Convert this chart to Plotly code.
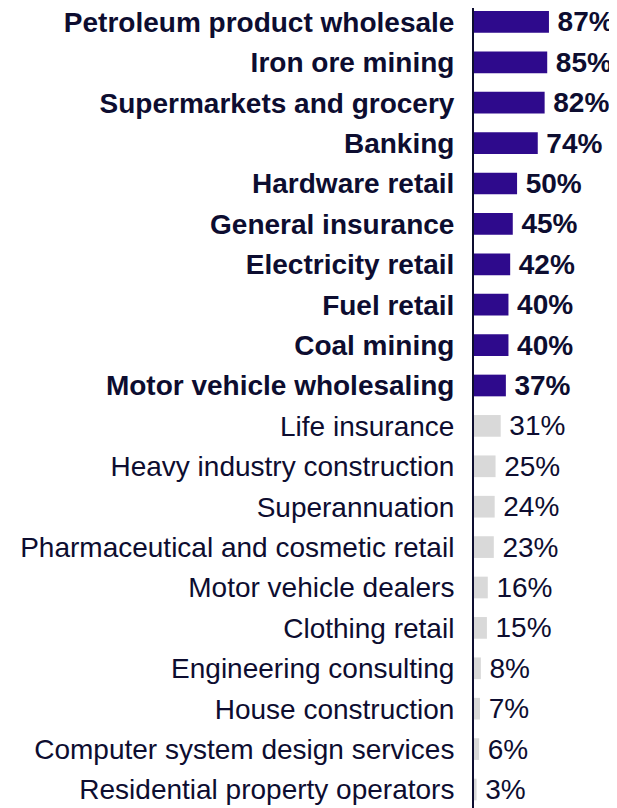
import plotly.graph_objects as go

categories = [
    "Petroleum product wholesale", "Iron ore mining", "Supermarkets and grocery",
    "Banking", "Hardware retail", "General insurance", "Electricity retail",
    "Fuel retail", "Coal mining", "Motor vehicle wholesaling", "Life insurance",
    "Heavy industry construction", "Superannuation",
    "Pharmaceutical and cosmetic retail", "Motor vehicle dealers",
    "Clothing retail", "Engineering consulting", "House construction",
    "Computer system design services", "Residential property operators",
]
values = [87, 85, 82, 74, 50, 45, 42, 40, 40, 37, 31, 25, 24, 23, 16, 15, 8, 7, 6, 3]
highlighted = [True] * 10 + [False] * 10

DARK = "#2E0A8C"
GREY = "#D9D9D9"
TEXT = "#0D0D30"

colors = [DARK if h else GREY for h in highlighted]
bar_text = [(f"\u2009<b>{v}%</b>" if h else f"\u2009{v}%") for v, h in zip(values, highlighted)]
tick_text = [(f"<b>{c}</b>" if h else c) for c, h in zip(categories, highlighted)]

fig = go.Figure(go.Bar(
    x=values, y=categories, orientation="h",
    marker=dict(color=colors, line=dict(width=0)),
    width=0.537,
    text=bar_text, textposition="outside", constraintext="none",
    cliponaxis=False,
    textfont=dict(family="Liberation Sans, Arial, sans-serif", size=28, color=TEXT),
    hoverinfo="skip",
))

fig.update_layout(
    width=609, height=800,
    margin=dict(l=466, r=0, t=0, b=0),
    paper_bgcolor="white", plot_bgcolor="white",
    showlegend=False,
    font=dict(family="Liberation Sans, Arial, sans-serif", size=28, color=TEXT),
)
fig.update_xaxes(range=[0, 166], visible=False, fixedrange=True)
fig.update_yaxes(
    type="category", categoryorder="array", categoryarray=categories,
    tickvals=categories, ticktext=tick_text,
    range=[19.458, -0.344],
    showline=True, linecolor=TEXT, linewidth=2,
    showgrid=False, zeroline=False, ticks="",
    ticklabelstandoff=12,
    tickfont=dict(family="Liberation Sans, Arial, sans-serif", size=28, color=TEXT),
    automargin=False,
)

fig.write_html("out.html")
